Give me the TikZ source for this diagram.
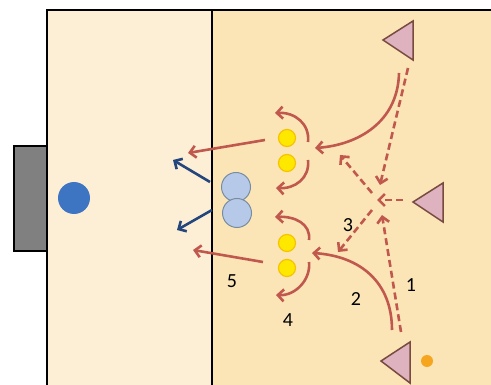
\documentclass[tikz,border=0pt]{standalone}
\usepackage{fontspec}
\setmainfont{Carlito}
\usetikzlibrary{arrows.meta}
\definecolor{fieldL}{RGB}{253,239,214}
\definecolor{fieldR}{RGB}{251,229,183}
\definecolor{goalgray}{RGB}{128,128,128}
\definecolor{ballblue}{RGB}{62,117,195}
\definecolor{plblue}{RGB}{182,201,232}
\definecolor{pledge}{RGB}{120,140,160}
\definecolor{triFill}{RGB}{222,178,190}
\definecolor{triEdge}{RGB}{120,75,65}
\definecolor{yel}{RGB}{255,232,0}
\definecolor{yeledge}{RGB}{245,195,0}
\definecolor{orng}{RGB}{245,165,30}
\definecolor{redc}{RGB}{192,88,78}
\definecolor{darkblue}{RGB}{35,70,125}
\tikzset{
  goalbox/.style={draw=black, line width=2pt, fill=goalgray, minimum width=33pt, minimum height=105pt, inner sep=0pt},
  ballnode/.style={circle, fill=ballblue, minimum size=32pt, inner sep=0pt},
  bplayer/.style={circle, draw=pledge, line width=1pt, fill=plblue, minimum size=29pt, inner sep=0pt},
  ydot/.style={circle, draw=yeledge, line width=1.2pt, fill=yel, minimum size=17pt, inner sep=0pt},
  odot/.style={circle, fill=orng, minimum size=12pt, inner sep=0pt},
  tri/.style={draw=triEdge, line width=1.5pt, fill=triFill, line join=miter},
  redarr/.style={draw=redc, line width=2.6pt, -{Straight Barb[length=6pt,width=12pt]}},
  reddash/.style={redarr, dash pattern=on 7pt off 4pt},
  bluearr/.style={draw=darkblue, line width=2.6pt, -{Straight Barb[length=6pt,width=12pt]}},
  lbl/.style={font=\fontsize{20}{20}\selectfont, text=black, inner sep=0pt}
}
\begin{document}
\begin{tikzpicture}[x=1pt,y=-1pt]
\useasboundingbox (0,0) rectangle (491,385);
% field
\fill[fieldL] (47,10) rectangle (212,385);
\fill[fieldR] (212,10) rectangle (491,385);
\draw[line width=2.5pt] (47,385) -- (47,10) -- (491,10);
\draw[line width=2pt] (212,10) -- (212,385);
% goal and ball
\node[goalbox] (goal) at (30,199) {};
\node[ballnode] (ball) at (74,198) {};
% defenders
\node[bplayer] (b1) at (236,187) {};
\node[bplayer] (b2) at (237,213) {};
% yellow dots
\node[ydot] (y1) at (287,138) {};
\node[ydot] (y2) at (287,163) {};
\node[ydot] (y3) at (287,243) {};
\node[ydot] (y4) at (287,268) {};
% orange ball
\node[odot] (ob) at (427,361) {};
% triangles
\draw[tri] (383,40) coordinate (t1) -- (413,21) -- (413,60) -- cycle;
\draw[tri] (413,202) coordinate (t2) -- (443,183) -- (443,222) -- cycle;
\draw[tri] (381,361) coordinate (t3) -- (410,342) -- (410,383) -- cycle;
% coordinates
\coordinate (a1s) at (399,73);  \coordinate (a1e) at (315,148);
\coordinate (a2s) at (408,68);  \coordinate (a2e) at (380,185);
\coordinate (a3s) at (403,200); \coordinate (a3e) at (377,200);
\coordinate (a4s) at (372,193); \coordinate (a4e) at (340,155);
\coordinate (a5s) at (372,210); \coordinate (a5e) at (338,252);
\coordinate (a6s) at (401,332); \coordinate (a6e) at (382,215);
\coordinate (a7s) at (392,330); \coordinate (a7e) at (312,253);
\coordinate (u1s) at (308,142); \coordinate (u1e) at (275,113);
\coordinate (u2s) at (308,160); \coordinate (u2e) at (276,188);
\coordinate (u3s) at (309,240); \coordinate (u3e) at (275,217);
\coordinate (u4s) at (309,262); \coordinate (u4e) at (276,295);
\coordinate (s1s) at (265,140); \coordinate (s1e) at (188,153);
\coordinate (s2s) at (263,262); \coordinate (s2e) at (193,250);
\coordinate (bl1s) at (210,182); \coordinate (bl1e) at (173,160);
\coordinate (bl2s) at (212,210); \coordinate (bl2e) at (177,230);
% red arrows
\draw[redarr] (a1s) .. controls (398,122) and (358,145) .. (a1e);
\draw[reddash] (a2s) -- (a2e);
\draw[reddash] (a3s) -- (a3e);
\draw[reddash] (a4s) -- (a4e);
\draw[reddash] (a5s) -- (a5e);
\draw[reddash] (a6s) -- (a6e);
\draw[redarr] (a7s) .. controls (392,282) and (360,256) .. (a7e);
\draw[redarr] (u1s) .. controls (310,124) and (295,112) .. (u1e);
\draw[redarr] (u2s) .. controls (310,178) and (295,189) .. (u2e);
\draw[redarr] (u3s) .. controls (311,224) and (295,216) .. (u3e);
\draw[redarr] (u4s) .. controls (311,280) and (295,296) .. (u4e);
\draw[redarr] (s1s) -- (s1e);
\draw[redarr] (s2s) -- (s2e);
% blue arrows
\draw[bluearr] (bl1s) -- (bl1e);
\draw[bluearr] (bl2s) -- (bl2e);
% labels
\node[lbl] (l1) at (411,285) {1};
\node[lbl] (l2) at (356,299) {2};
\node[lbl] (l3) at (348,225) {3};
\node[lbl] (l4) at (288,320) {4};
\node[lbl] (l5) at (232,281) {5};
\end{tikzpicture}
\end{document}
